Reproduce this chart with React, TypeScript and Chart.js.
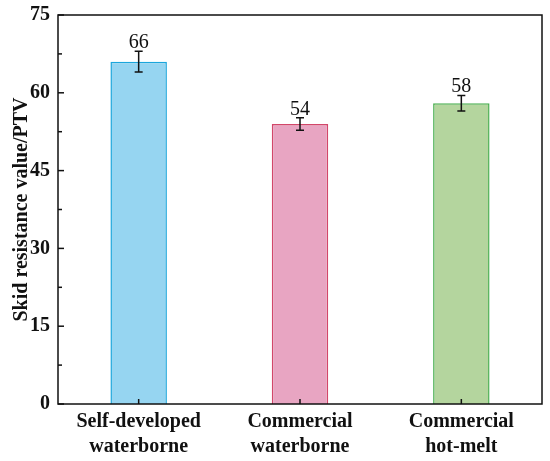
import { useEffect, useRef } from 'react';
import { Chart, registerables } from 'chart.js';
Chart.register(...registerables);

const categories = [['Self-developed', 'waterborne'], ['Commercial', 'waterborne'], ['Commercial', 'hot-melt']];
const values = [66, 54, 58];
const errors = [2, 1.2, 1.5];
const yTicks = [0, 15, 30, 45, 60, 75];

const FILL = ['#96d5f1', '#e8a5c2', '#b4d59e'];
const EDGE = ['#1ba6dc', '#d2476a', '#4caf52'];
const SERIF = "'Liberation Serif', 'Times New Roman', serif";

// frame, inward ticks, error bars and value labels
const decor = {
  id: 'decor',
  afterDatasetsDraw(chart: Chart) {
    const { ctx, chartArea: a, scales } = chart;
    const x = scales.x, y = scales.y;
    ctx.save();
    ctx.strokeStyle = '#111';
    ctx.lineWidth = 1.5;
    // error bars
    values.forEach((v, i) => {
      const cx = x.getPixelForValue(i);
      const top = y.getPixelForValue(v + errors[i]);
      const bot = y.getPixelForValue(v - errors[i]);
      ctx.beginPath();
      ctx.moveTo(cx, top); ctx.lineTo(cx, bot);
      ctx.moveTo(cx - 4, top); ctx.lineTo(cx + 4, top);
      ctx.moveTo(cx - 4, bot); ctx.lineTo(cx + 4, bot);
      ctx.stroke();
      ctx.fillStyle = '#111';
      ctx.font = `20px ${SERIF}`;
      ctx.textAlign = 'center';
      ctx.textBaseline = 'alphabetic';
      ctx.fillText(String(v), cx, top - 3);
    });
    // frame
    ctx.strokeRect(a.left, a.top, a.right - a.left, a.bottom - a.top);
    // y ticks (major + minor)
    for (let t = 0; t <= 75; t += 7.5) {
      const py = y.getPixelForValue(t);
      const len = t % 15 === 0 ? 6 : 4;
      ctx.beginPath();
      ctx.moveTo(a.left, py); ctx.lineTo(a.left + len, py);
      ctx.stroke();
    }
    // x ticks
    values.forEach((_, i) => {
      const px = x.getPixelForValue(i);
      ctx.beginPath();
      ctx.moveTo(px, a.bottom); ctx.lineTo(px, a.bottom - 5);
      ctx.stroke();
    });
    ctx.restore();
  },
};

export default function App() {
  const canvasRef = useRef<HTMLCanvasElement>(null);
  const chartRef = useRef<Chart | null>(null);

  useEffect(() => {
    document.body.style.margin = '0';
    if (!canvasRef.current) return;
    chartRef.current?.destroy();
    chartRef.current = new Chart(canvasRef.current, {
      type: 'bar',
      data: {
        labels: categories,
        datasets: [{
          data: values,
          backgroundColor: FILL,
          borderColor: EDGE,
          borderWidth: 1.5,
          barPercentage: 0.35,
          categoryPercentage: 1,
        }],
      },
      options: {
        responsive: true,
        maintainAspectRatio: false,
        animation: false,
        layout: { padding: { top: 4, right: 8, left: 0, bottom: 0 } },
        plugins: { legend: { display: false }, tooltip: { enabled: false } },
        scales: {
          x: {
            grid: { display: false, drawTicks: false },
            border: { display: false },
            ticks: {
              color: '#111',
              padding: 5,
              maxRotation: 0,
              font: { family: SERIF, size: 20, weight: 'bold', lineHeight: 1.25 },
            },
            afterFit: (s: any) => { s.height = 57; },
          },
          y: {
            min: 0,
            max: 75,
            afterBuildTicks: (s: any) => { s.ticks = yTicks.map(v => ({ value: v })); },
            grid: { display: false, drawTicks: false },
            border: { display: false },
            ticks: {
              color: '#111',
              padding: 8,
              font: { family: SERIF, size: 20, weight: 'bold', lineHeight: 0.7 },
            },
            title: {
              display: true,
              text: 'Skid resistance value/PTV',
              color: '#111',
              padding: { top: 11, bottom: 0 },
              font: { family: SERIF, size: 20, weight: 'bold', lineHeight: 1.1 },
            },
            afterFit: (s: any) => { s.width = 58; },
          },
        },
      },
      plugins: [decor],
    });
    return () => chartRef.current?.destroy();
  }, []);

  return (
    <div style={{ position: 'relative', width: 550, height: 461, background: '#fff' }}>
      <canvas ref={canvasRef} />
    </div>
  );
}
